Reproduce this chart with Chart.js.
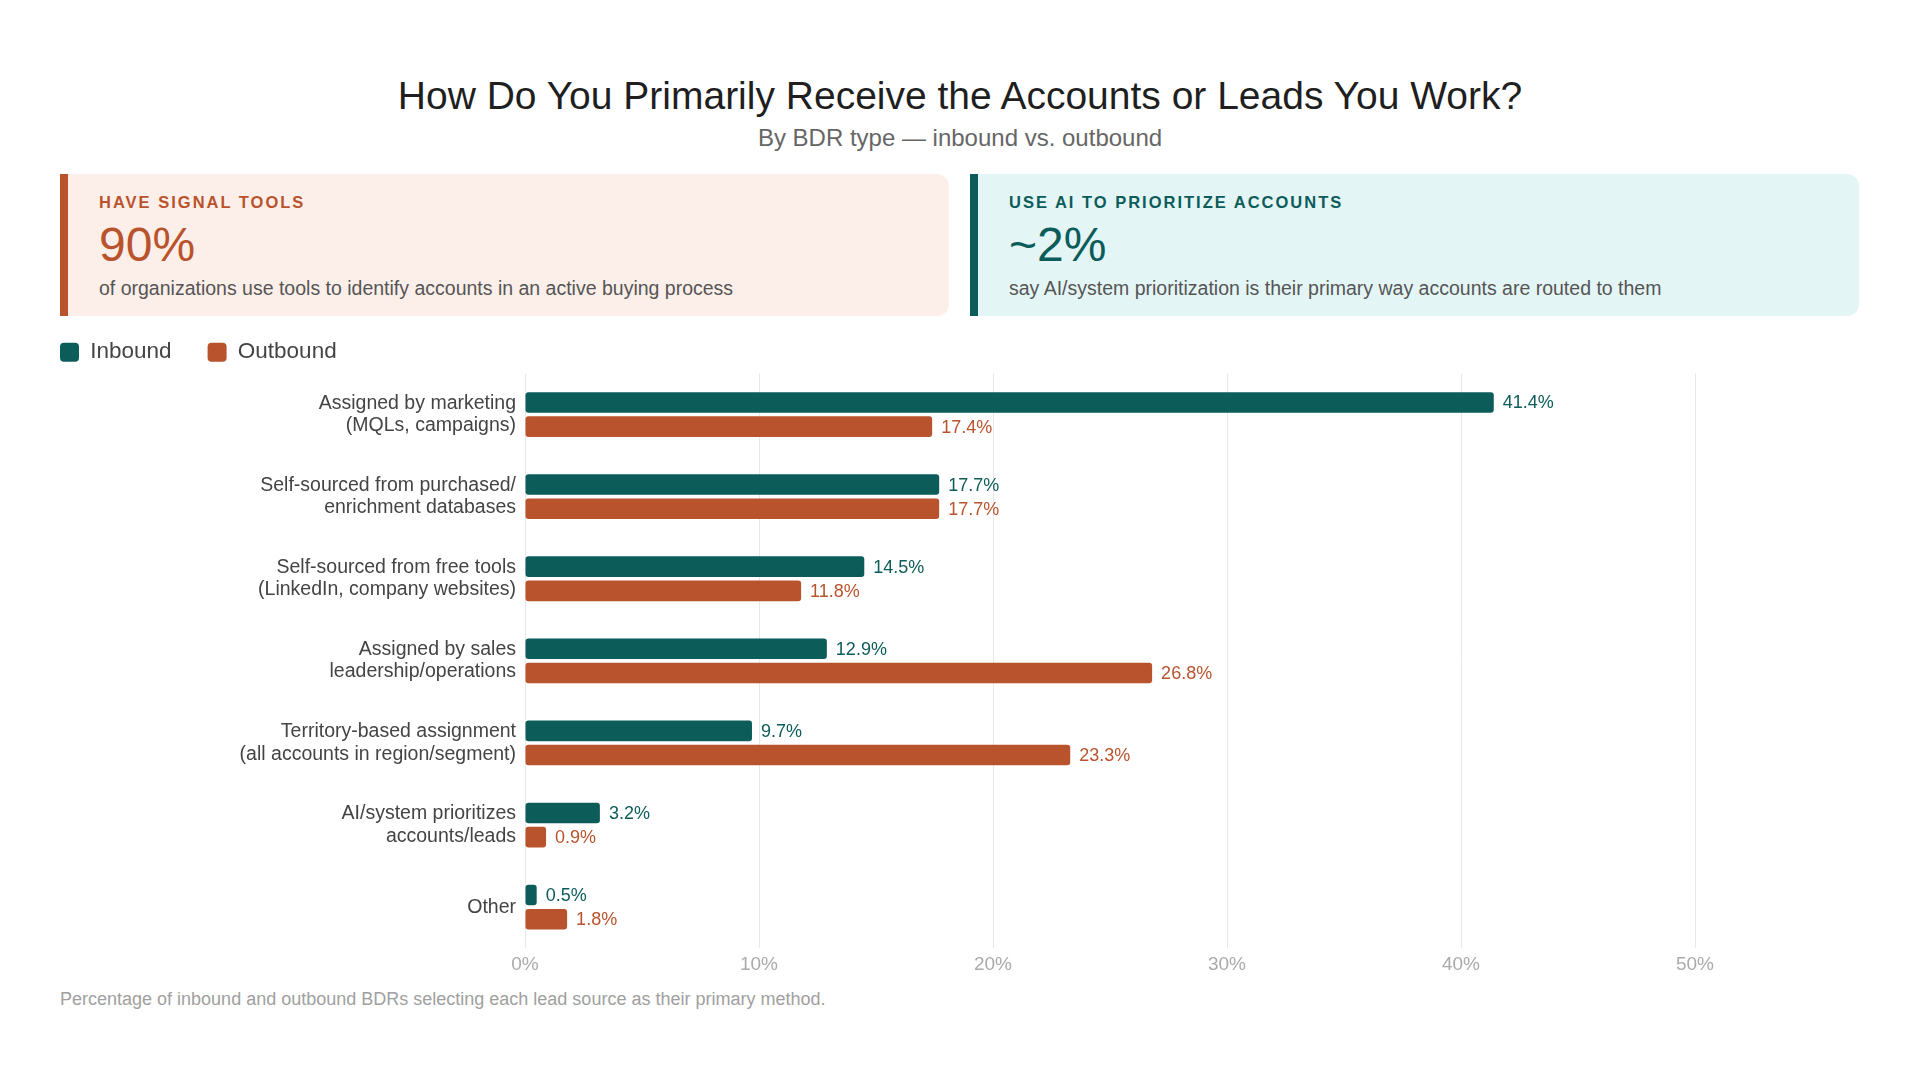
<!DOCTYPE html>
<html>
<head>
<meta charset="utf-8">
<script src="https://cdn.jsdelivr.net/npm/chart.js@4.4.1/dist/chart.umd.min.js"></script>
<style>
html,body{margin:0;padding:0;background:#fff;width:1920px;height:1080px;overflow:hidden;font-family:"Liberation Sans",Arial,sans-serif;}
#title{position:absolute;left:0;width:1920px;top:73px;text-align:center;font-size:39px;line-height:1.2;color:#1f1f1f;}
#subtitle{position:absolute;left:0;width:1920px;top:124px;text-align:center;font-size:24px;line-height:1.2;color:#666;}
.card{position:absolute;top:174px;height:142px;width:881px;border-left:8px solid;border-radius:0 12px 12px 0;}
.card .lab{position:absolute;left:31px;top:19px;font-size:16.5px;line-height:1.2;font-weight:bold;letter-spacing:2px;}
.card .big{position:absolute;left:31px;top:42px;font-size:48px;line-height:1.2;}
.card .desc{position:absolute;left:31px;top:103px;font-size:19.5px;line-height:1.2;color:#555;}
#c1{left:60px;background:#fcefe9;border-color:#b9532d;}
#c1 .lab,#c1 .big{color:#b9532d;}
#c2{left:970px;background:#e4f5f6;border-color:#0c5c5a;}
#c2 .lab,#c2 .big{color:#0c5c5a;}
#wrap{position:absolute;left:24px;top:305px;width:1836px;height:677px;}
#foot{position:absolute;left:60px;top:989px;font-size:18px;line-height:1.2;color:#a0a0a0;}
</style>
</head>
<body>
<div id="title">How Do You Primarily Receive the Accounts or Leads You Work?</div>
<div id="subtitle">By BDR type — inbound vs. outbound</div>
<div class="card" id="c1">
  <div class="lab">HAVE SIGNAL TOOLS</div>
  <div class="big">90%</div>
  <div class="desc">of organizations use tools to identify accounts in an active buying process</div>
</div>
<div class="card" id="c2">
  <div class="lab">USE AI TO PRIORITIZE ACCOUNTS</div>
  <div class="big">~2%</div>
  <div class="desc">say AI/system prioritization is their primary way accounts are routed to them</div>
</div>
<div id="wrap"><canvas id="chart"></canvas></div>
<div id="foot">Percentage of inbound and outbound BDRs selecting each lead source as their primary method.</div>
<script>
const categories = [
  ["Assigned by marketing", "(MQLs, campaigns)"],
  ["Self-sourced from purchased/", "enrichment databases"],
  ["Self-sourced from free tools", "(LinkedIn, company websites)"],
  ["Assigned by sales", "leadership/operations"],
  ["Territory-based assignment", "(all accounts in region/segment)"],
  ["AI/system prioritizes", "accounts/leads"],
  "Other"
];
const seriesNames = ["Inbound", "Outbound"];
const inbound = [41.4, 17.7, 14.5, 12.9, 9.7, 3.2, 0.5];
const outbound = [17.4, 17.7, 11.8, 26.8, 23.3, 0.9, 1.8];
const xTickValues = [0, 10, 20, 30, 40, 50];

const INB = '#0c5c5a', OUT = '#b9532d';
const FONT = '"Liberation Sans", Arial, sans-serif';

const valueLabels = {
  id: 'valueLabels',
  afterDatasetsDraw(chart) {
    const ctx = chart.ctx;
    ctx.save();
    ctx.font = '18px ' + FONT;
    ctx.textBaseline = 'middle';
    ctx.textAlign = 'left';
    chart.data.datasets.forEach((ds, di) => {
      const meta = chart.getDatasetMeta(di);
      meta.data.forEach((bar, i) => {
        ctx.fillStyle = ds.backgroundColor;
        ctx.fillText(ds.data[i].toFixed(1) + '%', bar.x + 9, bar.y + 1);
      });
    });
    ctx.restore();
  }
};

new Chart(document.getElementById('chart'), {
  type: 'bar',
  data: {
    labels: categories,
    datasets: [
      {label: seriesNames[0], data: inbound, backgroundColor: INB, borderRadius: 3, borderSkipped: false, barPercentage: 0.85, categoryPercentage: 0.59},
      {label: seriesNames[1], data: outbound, backgroundColor: OUT, borderRadius: 3, borderSkipped: false, barPercentage: 0.85, categoryPercentage: 0.59}
    ]
  },
  options: {
    indexAxis: 'y',
    responsive: true,
    maintainAspectRatio: false,
    animation: false,
    layout: {padding: {left: 0, right: 48, top: 0, bottom: 0}},
    plugins: {
      legend: {
        position: 'top',
        align: 'start',
        labels: {
          boxWidth: 19, boxHeight: 19, useBorderRadius: true, borderRadius: 4,
          color: '#444', padding: 36,
          font: {family: FONT, size: 22.5}
        }
      },
      tooltip: {enabled: false}
    },
    scales: {
      x: {
        min: 0, max: 55,
        afterBuildTicks(scale) { scale.ticks = xTickValues.map(v => ({value: v})); },
        ticks: {
          stepSize: 10, includeBounds: false,
          callback: v => v + '%',
          color: '#aaa', padding: 5.5,
          font: {family: FONT, size: 19}
        },
        grid: {color: '#e8e8e8', lineWidth: 1, drawTicks: false},
        border: {display: false}
      },
      y: {
        afterFit(scale) { scale.width = 501; },
        ticks: {
          color: '#444', padding: 9,
          font: {family: FONT, size: 19.5, lineHeight: 1.15}
        },
        grid: {display: false, drawTicks: false},
        border: {display: false}
      }
    }
  },
  plugins: [valueLabels]
});
</script>
</body>
</html>
